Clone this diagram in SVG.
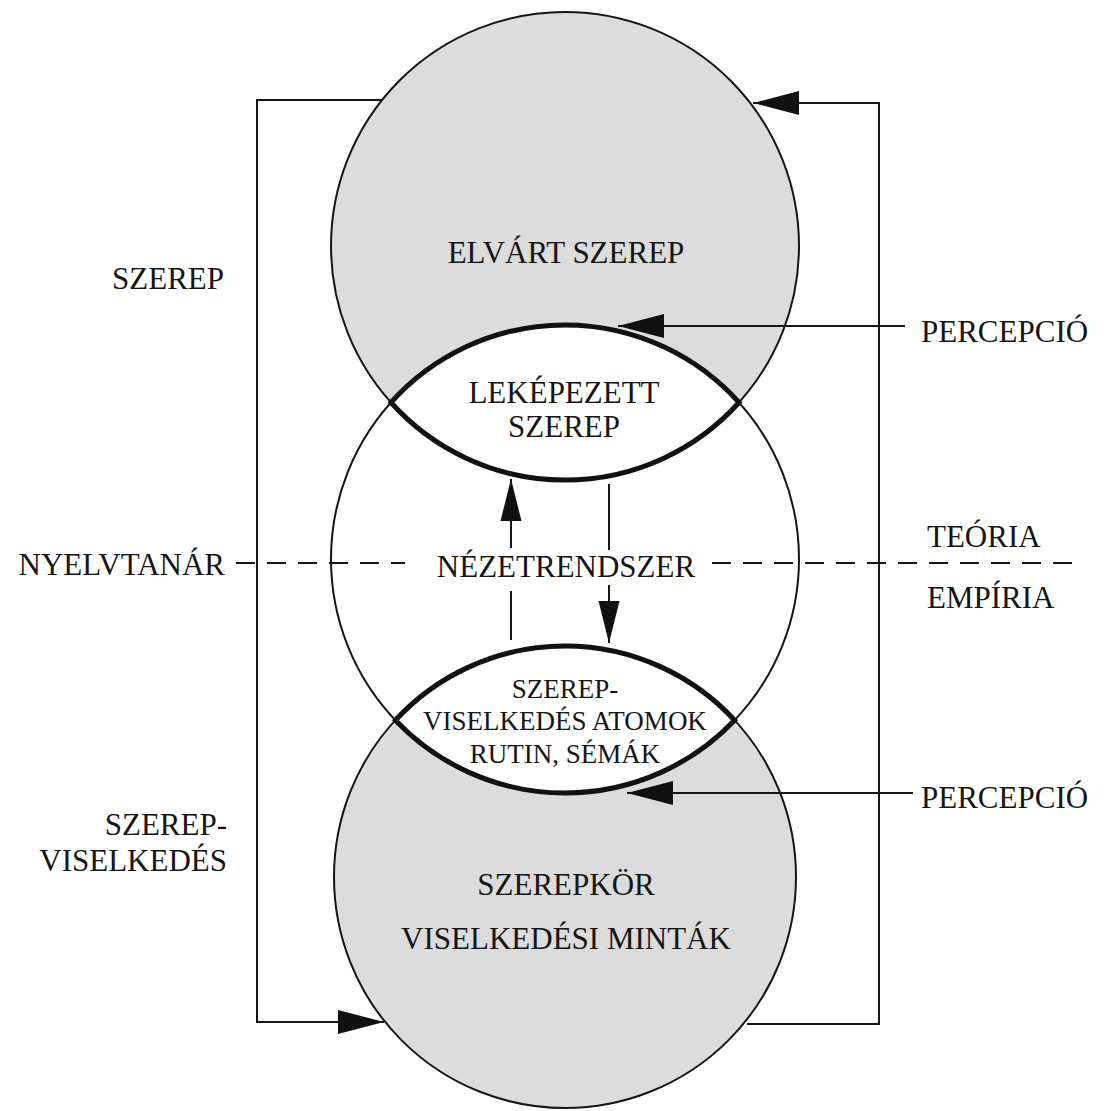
<svg xmlns="http://www.w3.org/2000/svg" width="1107" height="1111" viewBox="0 0 1107 1111">
<style>
text{font-family:"Liberation Serif","Times New Roman",serif;fill:#151515;font-size:31px}
.c{text-anchor:middle}
.e{text-anchor:end}
.s{font-size:27px}
.out{fill:none;stroke:#151515;stroke-width:2}
.lens{fill:none;stroke:#111;stroke-width:5}
.ln{fill:none;stroke:#151515;stroke-width:2}
.dash{fill:none;stroke:#151515;stroke-width:2;stroke-dasharray:19 12}
</style>
<defs>
<marker id="ah" markerUnits="userSpaceOnUse" markerWidth="46" markerHeight="26" refX="46" refY="13" orient="auto">
<path d="M0,1 L46,13 L0,25 z" fill="#111"/>
</marker>
<marker id="ahs" markerUnits="userSpaceOnUse" markerWidth="42" markerHeight="22" refX="42" refY="11" orient="auto">
<path d="M0,0.5 L42,11 L0,21.5 z" fill="#111"/>
</marker>
</defs>
<rect width="1107" height="1111" fill="#fff"/>
<g id="circle-top">
<circle cx="565" cy="246" r="234" fill="#dcdcdc"/>
</g>
<g id="circle-bottom">
<circle cx="565" cy="877" r="231" fill="#dcdcdc"/>
</g>
<g id="circle-middle">
<circle cx="565" cy="559" r="234" fill="#fff"/>
</g>
<g id="outlines">
<circle class="out" cx="565" cy="246" r="234"/>
<circle class="out" cx="565" cy="877" r="231"/>
<circle class="out" cx="565" cy="559" r="234"/>
</g>
<g id="lens-top">
<path class="lens" d="M391,402.5 A234,234 0 0 1 739,402.5 A234,234 0 0 1 391,402.5 z" fill="#fff"/>
</g>
<g id="lens-bottom">
<path class="lens" d="M395.4,720.2 A231,231 0 0 1 734.6,720.2 A234,234 0 0 1 395.4,720.2 z" fill="#fff"/>
</g>
<g id="connectors">
<path class="ln" d="M382,100 H257 V1022 H384" marker-end="url(#ah)"/>
<path class="ln" d="M747,1024 H879 V103 H753" marker-end="url(#ah)"/>
<path class="ln" d="M905,326 H618" marker-end="url(#ah)"/>
<path class="ln" d="M913,793 H627" marker-end="url(#ah)"/>
<path class="ln" d="M511,640 V591"/>
<path class="ln" d="M511,548 V479" marker-end="url(#ahs)"/>
<path class="ln" d="M609,484 V550"/>
<path class="ln" d="M609,585 V643" marker-end="url(#ahs)"/>
<path class="dash" d="M236,563 H405"/>
<path class="dash" d="M712,563 H1083"/>
</g>
<g id="labels">
<text class="c" x="566" y="263">ELVÁRT SZEREP</text>
<text class="c" x="564" y="403">LEKÉPEZETT</text>
<text class="c" x="564" y="437">SZEREP</text>
<text class="c" x="566" y="577">NÉZETRENDSZER</text>
<text class="c s" x="565" y="698">SZEREP-</text>
<text class="c s" x="565" y="730">VISELKEDÉS ATOMOK</text>
<text class="c s" x="565" y="763">RUTIN, SÉMÁK</text>
<text class="c" x="566" y="895">SZEREPKÖR</text>
<text class="c" x="566" y="949">VISELKEDÉSI MINTÁK</text>
<text class="e" x="224" y="289">SZEREP</text>
<text class="e" x="225" y="575">NYELVTANÁR</text>
<text class="e" x="227" y="835">SZEREP-</text>
<text class="e" x="227" y="871">VISELKEDÉS</text>
<text x="921" y="342">PERCEPCIÓ</text>
<text x="921" y="808">PERCEPCIÓ</text>
<text x="927" y="547">TEÓRIA</text>
<text x="927" y="608">EMPÍRIA</text>
</g>
</svg>
